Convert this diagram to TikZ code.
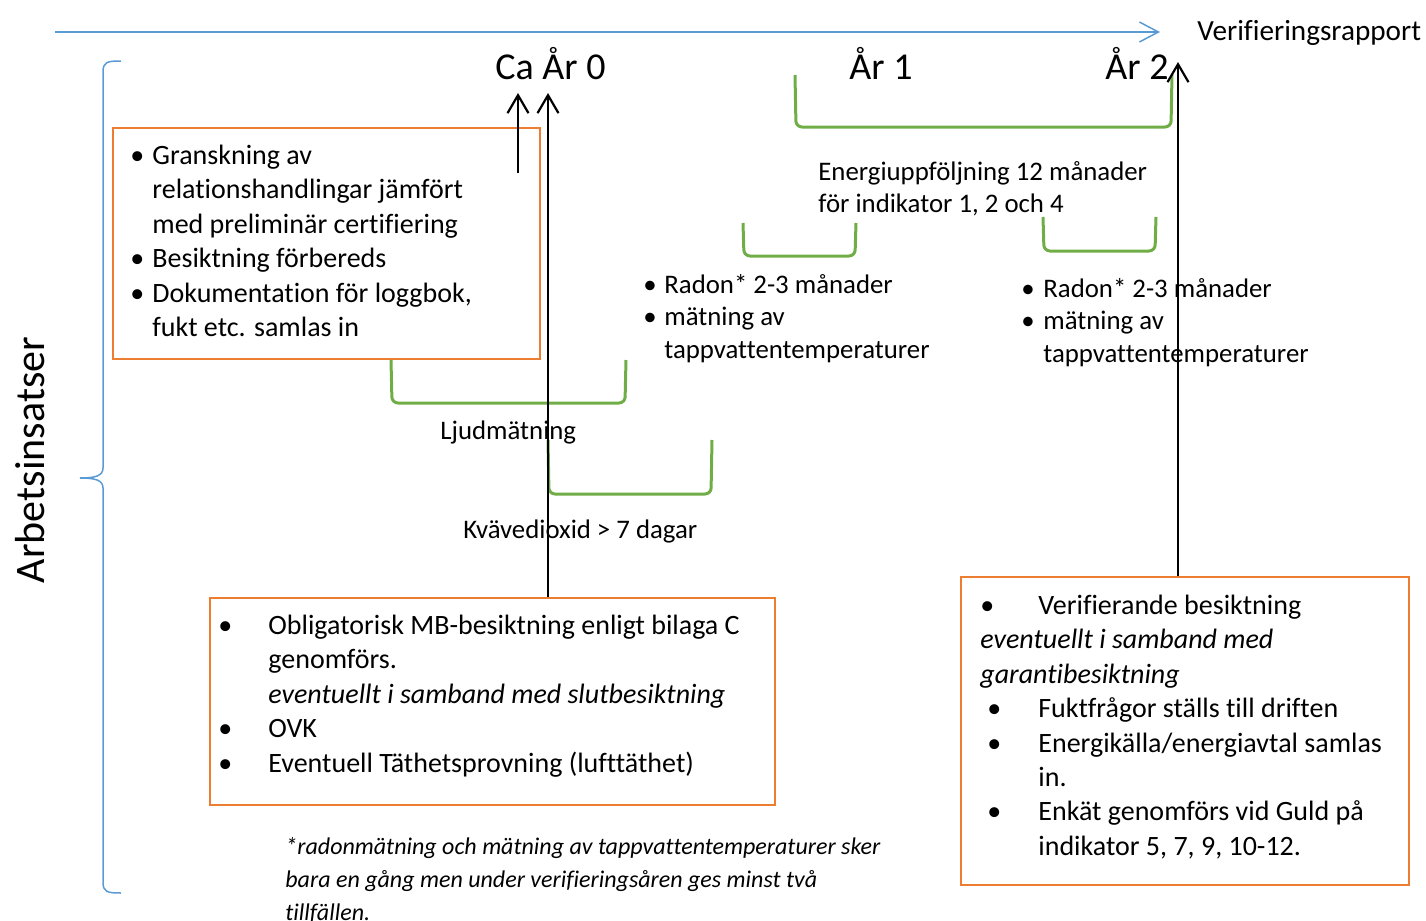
\documentclass[tikz,border=0pt]{standalone}
\usepackage{fontspec}
\setmainfont{Carlito}[Ligatures=NoCommon]
\usepackage{tikz}
\usetikzlibrary{calc,arrows.meta}
\usepackage{xcolor}
\definecolor{vfblue}{HTML}{5B9BD5}
\definecolor{vforange}{HTML}{ED7D31}
\definecolor{vfgreen}{HTML}{70AD47}
\newcommand{\vfbul}[1]{\makebox[#1][l]{\textbullet}}
\newcommand{\vfind}[1]{\hspace*{#1}}
\newcommand{\vfbrack}[4]{\draw[vfgreen,line width=1.5pt,rounded corners=3pt] (#1,#3) -- (#1+1,#4) -- (#2-1,#4) -- (#2,#3);}

\begin{document}
\begin{tikzpicture}[x=0.5pt,y=-0.5pt,
		every node/.style={inner sep=0pt},
		obox/.style={draw=vforange,line width=1.2pt,anchor=north west},
		txt/.style={align=left,anchor=north west},
		upar/.style={-{Straight Barb[length=9pt,width=10.5pt]},line width=1.1pt},
		bodyf/.style={font=\fontsize{14}{17.2}\selectfont},
		smallf/.style={font=\fontsize{13.4}{16.2}\selectfont},
		yearf/.style={font=\fontsize{19}{23}\selectfont}]
		
		\useasboundingbox (0,0) rectangle (1426,921);
		
		\coordinate (tl0) at (55,32);
		\coordinate (tl1) at (1160,32);
		\draw[vfblue,line width=0.75pt,-{Straight Barb[length=9.5pt,width=10pt]}] (tl0) -- (tl1);
		\draw (1197,40) node[anchor=base west,font=\fontsize{14.6}{17}\selectfont] (rapport) {Verifieringsrapport};
		
		\draw[vfblue,line width=0.75pt] (121,61) .. controls (107,61) and (103,62) .. (103,72) -- (103,468) .. controls (103,476) and (95,478) .. (80,478) .. controls (95,478) and (103,480) .. (103,488) -- (103,882) .. controls (103,892) and (107,893) .. (121,893);
		\draw (45,460) node[anchor=base,rotate=90,font=\fontsize{21}{25}\selectfont] (arbets) {Arbetsinsatser};
		
		\draw (495,79) node[anchor=base west,yearf] (ar0) {Ca År 0};
		\draw (849,79) node[anchor=base west,yearf] (ar1) {År 1};
		\draw (1105,79) node[anchor=base west,yearf] (ar2) {År 2};
		
		\node[obox,minimum width=213.5pt,minimum height=115.5pt] (gransk) at (112,127) {};
		\node[obox,minimum width=282.5pt,minimum height=103.5pt] (mbbes) at (209,597) {};
		\node[obox,minimum width=224pt,minimum height=154pt] (verbes) at (960,576) {};
		
		\node[txt,bodyf] (granskt) at (130,140) {\strut\vfbul{11pt}Granskning av\\
			\vfind{11pt}relationshandlingar jämfört\\
			\vfind{11pt}med preliminär certifiering\\
			\vfbul{11pt}Besiktning förbereds\\
			\vfbul{11pt}Dokumentation för loggbok,\\
			\vfind{11pt}fukt etc. samlas in};
		
		\node[txt,bodyf] (mbbest) at (218,610) {\strut\vfbul{25pt}Obligatorisk MB-besiktning enligt bilaga C\\
			\vfind{25pt}genomförs.\\
			\vfind{25pt}\textit{eventuellt i samband med slutbesiktning}\\
			\vfbul{25pt}OVK\\
			\vfbul{25pt}Eventuell Täthetsprovning (lufttäthet)};
		
		\node[txt,bodyf] (verbest) at (980,590) {\strut\vfbul{29pt}Verifierande besiktning\\
			\textit{eventuellt i samband med}\\
			\textit{garantibesiktning}\\
			\vfind{3.5pt}\vfbul{25.5pt}Fuktfrågor ställs till driften\\
			\vfind{3.5pt}\vfbul{25.5pt}Energikälla/energiavtal samlas\\
			\vfind{29pt}in.\\
			\vfind{3.5pt}\vfbul{25.5pt}Enkät genomförs vid Guld på\\
			\vfind{29pt}indikator 5, 7, 9, 10-12.};
		
		\vfbrack{795}{1172}{75}{127}
		\vfbrack{743}{856}{223}{256}
		\vfbrack{1043}{1156}{217}{251}
		\vfbrack{391}{626}{360}{403}
		\vfbrack{548}{712}{440}{494}
		
		\node[txt,smallf] (energi) at (818,157) {\strut Energiuppföljning 12 månader\\för indikator 1, 2 och 4};
		
		\node[txt,font=\fontsize{13.4}{16.25}\selectfont] (radon1) at (643,270) {\strut\vfbul{10.5pt}Radon* 2-3 månader\\
			\vfbul{10.5pt}mätning av\\
			\vfind{10.5pt}tappvattentemperaturer};
		\node[txt,font=\fontsize{13.4}{16.25}\selectfont] (radon2) at (1021,274) {\strut\vfbul{11pt}Radon* 2-3 månader\\
			\vfbul{11pt}mätning av\\
			\vfind{11pt}tappvattentemperaturer};
		
		\draw (440,439) node[anchor=base west,smallf] (ljud) {Ljudmätning};
		\draw (463,538) node[anchor=base west,smallf] (kvave) {Kvävedioxid > 7 dagar};
		
		\node[txt,font=\fontsize{12}{16.5}\selectfont\itshape] (fotnot) at (285,831) {\strut*radonmätning och mätning av tappvattentemperaturer sker\\
			bara en gång men under verifieringsåren ges minst två\\
			tillfällen.};
		
		\coordinate (pA0) at (518,173);
		\coordinate (pA1) at (518,93);
		\coordinate (pB) at (548,93);
		\coordinate (pC) at (1178,62);
		\draw[upar] (pA0) -- (pA1);
		\draw[upar] (mbbes.north -| pB) -- (pB);
		\draw[upar] (verbes.north -| pC) -- (pC);
		
	\end{tikzpicture}
\end{document}
